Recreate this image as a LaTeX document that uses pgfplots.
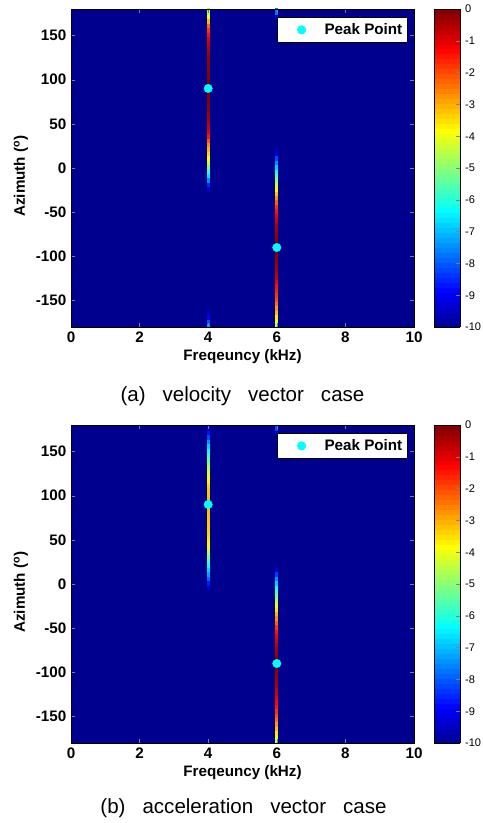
\documentclass[border=0pt]{standalone}
\usepackage{fontspec}
\setmainfont{Liberation Sans}
\usepackage{pgfplots}
\pgfplotsset{compat=1.18}
\definecolor{peakc}{rgb}{0,1,1}

\pgfplotsset{
  colormap={mjet}{rgb(0pt)=(0,0,0.5625); rgb(7pt)=(0,0,1); rgb(23pt)=(0,1,1); rgb(39pt)=(1,1,0); rgb(55pt)=(1,0,0); rgb(63pt)=(0.5,0,0)},
  panel/.style={
    scale only axis, width=257.25pt, height=238.5pt,
    xmin=0, xmax=10, ymin=-180, ymax=180,
    xtick={0,2,...,10}, ytick={-150,-100,...,150},
    tick align=inside, major tick length=3pt,
    axis line style={line width=0.6pt},
    axis on top,
    /pgf/number format/assume math mode=true,
    ticklabel style={font=\bfseries\fontsize{11.4}{13}\selectfont},
    label style={font=\bfseries\fontsize{11.4}{13}\selectfont},
    xlabel={Freqeuncy (kHz)},
    ylabel={Azimuth (\textsuperscript{o})},
    xlabel style={at={(axis description cs:0.5,0)}, anchor=center, yshift=-22.5pt},
    ylabel style={at={(axis description cs:-0.146,0.475)}, anchor=center},
    colormap name=mjet, point meta min=-10, point meta max=0,
    colorbar sampled,
    colorbar style={
      samples=65, width=19.5pt,
      at={(parent axis.north east)}, anchor=north west, xshift=6.75pt,
      ytick={-10,-9,...,0}, ytick pos=right, tick align=inside, major tick length=3pt,
      axis line style={line width=0.6pt},
      /pgf/number format/assume math mode=true,
      yticklabel style={font=\fontsize{8.3}{9}\selectfont},
    },
    legend style={at={(1,1)}, anchor=north east, xshift=-4.5pt, yshift=-6pt,
      draw=black, fill=white, line width=0.6pt,
      font=\bfseries\fontsize{11.4}{13}\selectfont,
      inner xsep=2pt, inner ysep=2.5pt},
    legend image code/.code={\path[draw=none, fill=none] (-16.3pt,0pt) -- (15.2pt,0pt); \draw[#1, only marks] plot coordinates {(0pt,0pt)};},
  },
  bg/.style={surf, shader=flat, point meta=explicit, mesh/cols=2, forget plot},
  stripe/.style={mesh, point meta=explicit, line width=2.3pt, line cap=rect, forget plot},
  peak/.style={only marks, mark=*, color=peakc, mark size=3.1pt},
}

\begin{document}
\begin{tikzpicture}
\path[use as bounding box] (-53.25pt,-372pt) rectangle (308.25pt,245.25pt);

% (a) velocity vector case
\begin{axis}[panel]
\addplot[bg] coordinates {(0,-180) [-10] (10,-180) [-10] (0,180) [-10] (10,180) [-10]};
% 4 kHz source
\addplot[stripe] coordinates {
(4,-30) [-10] (4,-25) [-9.8] (4,-20) [-9.0] (4,-15) [-8.0] (4,-10) [-7.0] (4,-5) [-6.2]
(4,0) [-5.5] (4,5) [-4.7] (4,10) [-4.0] (4,15) [-3.6] (4,20) [-3.3] (4,25) [-2.9]
(4,30) [-2.5] (4,35) [-1.8] (4,40) [-1.2] (4,45) [-0.9] (4,50) [-0.6] (4,55) [-0.45]
(4,60) [-0.3] (4,65) [-0.2] (4,70) [-0.1] (4,75) [-0.05] (4,80) [0] (4,85) [0]
(4,90) [0] (4,95) [0] (4,100) [0] (4,105) [-0.05] (4,110) [-0.1] (4,115) [-0.15]
(4,120) [-0.2] (4,125) [-0.25] (4,130) [-0.3] (4,135) [-0.45] (4,140) [-0.6] (4,145) [-0.9]
(4,150) [-1.2] (4,155) [-1.6] (4,160) [-2.0] (4,165) [-2.7] (4,170) [-3.5] (4,175) [-4.2]
(4,180) [-5.0]
};
\addplot[stripe] coordinates {(4,-180) [-7.0] (4,-175) [-7.7] (4,-170) [-8.5] (4,-165) [-9.3] (4,-160) [-10]};
% 6 kHz source
\addplot[stripe] coordinates {
(6,-180) [-4.5] (6,-175) [-4.2] (6,-170) [-3.8] (6,-165) [-3.4] (6,-160) [-3.0] (6,-155) [-2.6]
(6,-150) [-2.2] (6,-145) [-1.9] (6,-140) [-1.7] (6,-135) [-1.5] (6,-130) [-1.3] (6,-125) [-0.9]
(6,-120) [-0.6] (6,-115) [-0.45] (6,-110) [-0.3] (6,-105) [-0.2] (6,-100) [-0.1] (6,-95) [0]
(6,-90) [0] (6,-85) [0] (6,-80) [-0.1] (6,-75) [-0.2] (6,-70) [-0.3] (6,-65) [-0.45]
(6,-60) [-0.6] (6,-55) [-0.9] (6,-50) [-1.3] (6,-45) [-1.6] (6,-40) [-2.0] (6,-35) [-2.5]
(6,-30) [-3.0] (6,-25) [-3.5] (6,-20) [-4.0] (6,-15) [-4.6] (6,-10) [-5.2] (6,-5) [-5.8]
(6,0) [-6.5] (6,5) [-7.1] (6,10) [-7.8] (6,15) [-8.6] (6,20) [-9.5] (6,25) [-9.9]
(6,30) [-10]
};
\addplot[stripe] coordinates {(6,170) [-10] (6,175) [-8.5] (6,180) [-7.0]};
\addplot[peak] coordinates {(4,90) (6,-90)};
\addlegendentry{Peak Point}
\end{axis}

% (b) acceleration vector case
\begin{axis}[panel, at={(0,-312pt)}]
\addplot[bg] coordinates {(0,-180) [-10] (10,-180) [-10] (0,180) [-10] (10,180) [-10]};
% 4 kHz source
\addplot[stripe] coordinates {
(4,-10) [-10] (4,-5) [-9.6] (4,0) [-9.0] (4,5) [-8.2] (4,10) [-7.5] (4,15) [-7.0]
(4,20) [-6.5] (4,25) [-5.9] (4,30) [-5.3] (4,35) [-4.8] (4,40) [-4.3] (4,45) [-3.9]
(4,50) [-3.6] (4,55) [-3.5] (4,60) [-3.4] (4,65) [-3.35] (4,70) [-3.3] (4,75) [-3.25]
(4,80) [-3.2] (4,85) [-3.15] (4,90) [-3.1] (4,95) [-3.15] (4,100) [-3.2] (4,105) [-3.25]
(4,110) [-3.3] (4,115) [-3.5] (4,120) [-3.8] (4,125) [-4.0] (4,130) [-4.3] (4,135) [-4.7]
(4,140) [-5.2] (4,145) [-5.6] (4,150) [-6.0] (4,155) [-6.5] (4,160) [-7.0] (4,165) [-7.8]
(4,170) [-8.5] (4,175) [-9.0] (4,180) [-9.5]
};
% 6 kHz source
\addplot[stripe] coordinates {
(6,-180) [-4.5] (6,-175) [-4.2] (6,-170) [-3.8] (6,-165) [-3.4] (6,-160) [-3.0] (6,-155) [-2.6]
(6,-150) [-2.2] (6,-145) [-1.9] (6,-140) [-1.6] (6,-135) [-1.4] (6,-130) [-1.2] (6,-125) [-0.95]
(6,-120) [-0.7] (6,-115) [-0.55] (6,-110) [-0.4] (6,-105) [-0.3] (6,-100) [-0.2] (6,-95) [-0.1]
(6,-90) [0] (6,-85) [-0.1] (6,-80) [-0.2] (6,-75) [-0.35] (6,-70) [-0.5] (6,-65) [-0.75]
(6,-60) [-1.0] (6,-55) [-1.3] (6,-50) [-1.6] (6,-45) [-2.0] (6,-40) [-2.5] (6,-35) [-2.9]
(6,-30) [-3.3] (6,-25) [-3.8] (6,-20) [-4.3] (6,-15) [-4.8] (6,-10) [-5.3] (6,-5) [-5.9]
(6,0) [-6.5] (6,5) [-7.1] (6,10) [-7.8] (6,15) [-8.8] (6,20) [-9.8] (6,25) [-10]
(6,30) [-10]
};
\addplot[stripe] coordinates {(6,170) [-10] (6,175) [-8.8] (6,180) [-7.5]};
\addplot[peak] coordinates {(4,90) (6,-90)};
\addlegendentry{Peak Point}
\end{axis}

\node[anchor=base, font=\fontsize{15.4}{18}\selectfont] at (128.6pt,-56.25pt) {\spaceskip=12.75pt (a) velocity vector case};
\node[anchor=base, font=\fontsize{15.4}{18}\selectfont] at (129.4pt,-364.7pt) {\spaceskip=12.75pt (b) acceleration vector case};
\end{tikzpicture}
\end{document}
